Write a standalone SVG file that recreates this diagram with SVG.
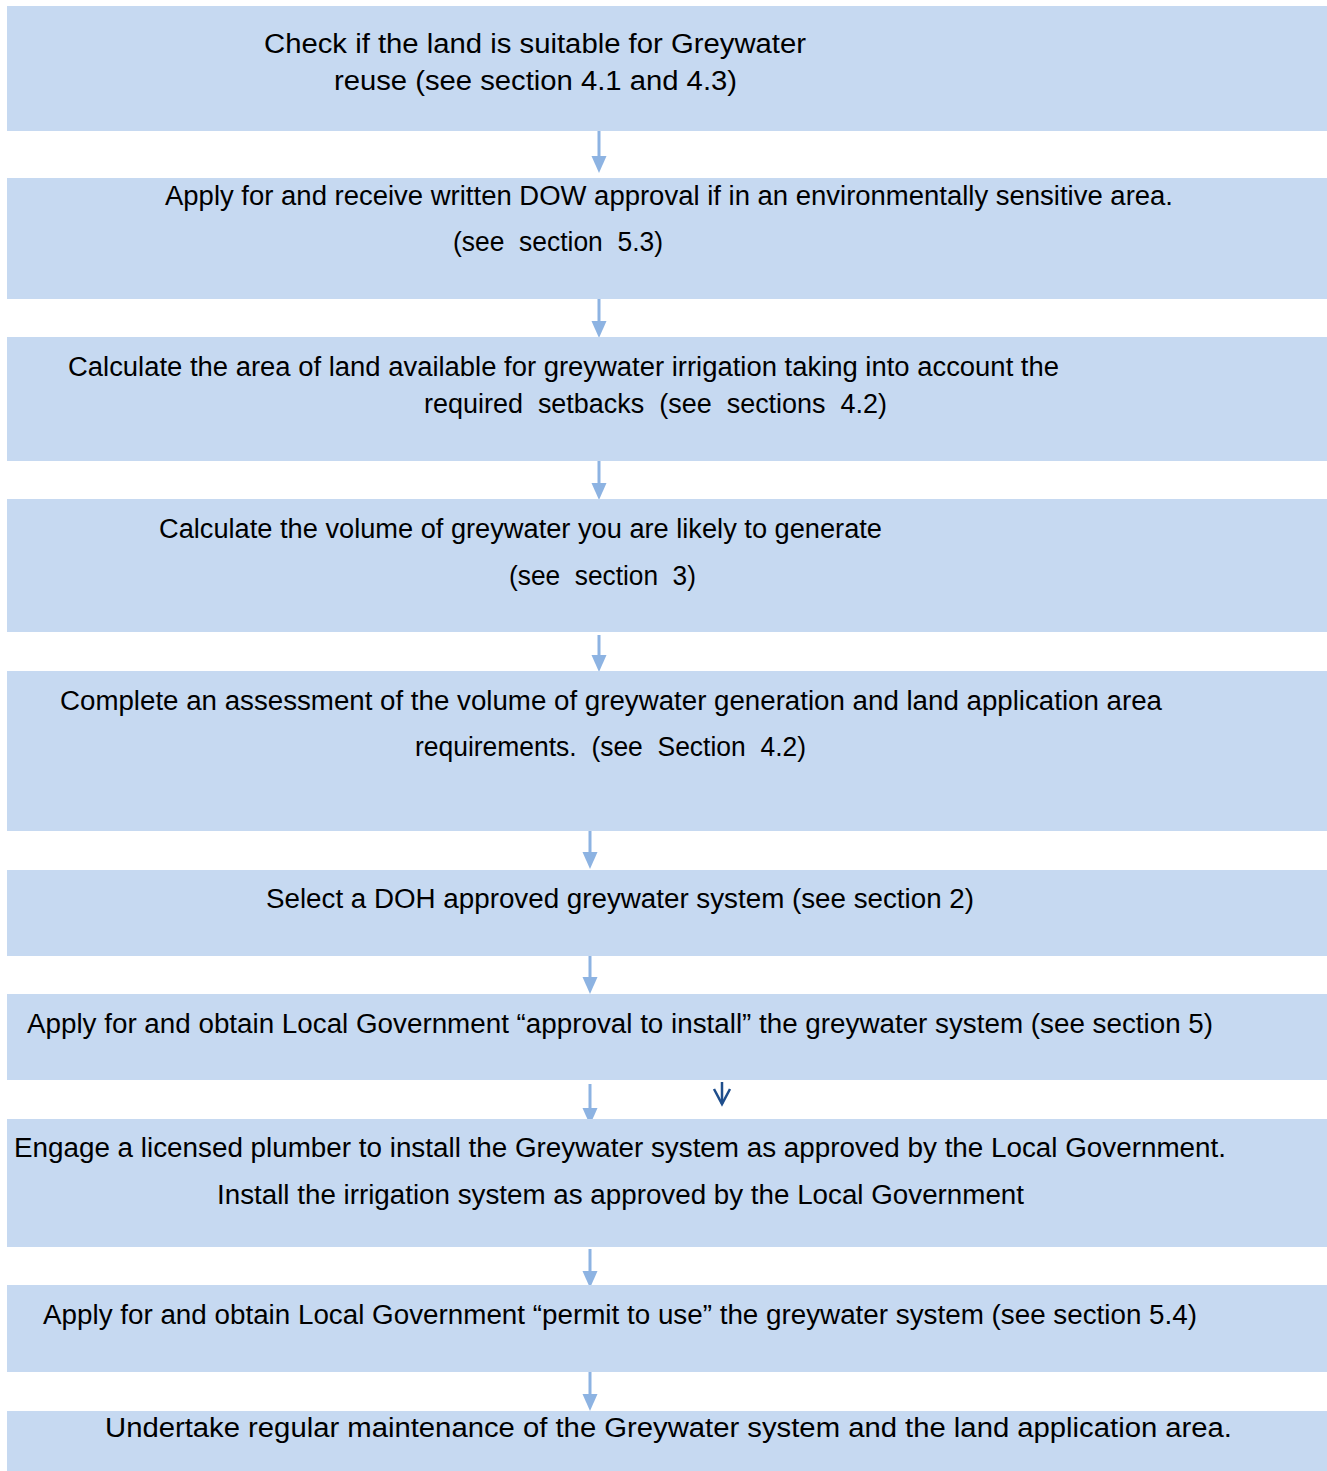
<svg xmlns="http://www.w3.org/2000/svg" width="1327" height="1471" viewBox="0 0 1327 1471">
<defs>
<style>
.box{fill:#c6d9f1}
.t{font-family:"Liberation Sans",Arial,sans-serif;font-size:27px;fill:#000;white-space:pre}
.ln{stroke:#8db3e2;stroke-width:3;fill:none}
.hd{fill:#8db3e2}
.dk{stroke:#1f4e8c;stroke-width:2.5;fill:none}
</style>
</defs>
<rect width="1327" height="1471" fill="#fff"/>
<g id="connectors">
<line class="ln" x1="599" y1="131" x2="599" y2="157"/><polygon class="hd" points="591.5,156 606.5,156 599,173"/>
<line class="ln" x1="599" y1="299" x2="599" y2="322"/><polygon class="hd" points="591.5,321 606.5,321 599,338"/>
<line class="ln" x1="599" y1="461" x2="599" y2="484"/><polygon class="hd" points="591.5,483 606.5,483 599,500"/>
<line class="ln" x1="599" y1="635" x2="599" y2="656"/><polygon class="hd" points="591.5,655 606.5,655 599,672"/>
<line class="ln" x1="590" y1="829" x2="590" y2="853"/><polygon class="hd" points="582.5,852 597.5,852 590,869"/>
<line class="ln" x1="590" y1="954" x2="590" y2="978"/><polygon class="hd" points="582.5,977 597.5,977 590,994"/>
<line class="ln" x1="590" y1="1084" x2="590" y2="1109"/><polygon class="hd" points="582.5,1108 597.5,1108 590,1125"/>
<line class="ln" x1="590" y1="1249" x2="590" y2="1272"/><polygon class="hd" points="582.5,1271 597.5,1271 590,1288"/>
<line class="ln" x1="590" y1="1371" x2="590" y2="1395"/><polygon class="hd" points="582.5,1394 597.5,1394 590,1411"/>
<line class="dk" x1="722" y1="1082" x2="722" y2="1104"/><polyline class="dk" points="714,1089 722,1104 730,1089"/>
</g>
<g id="n1"><rect class="box" x="7" y="6" width="1320" height="125"/>
<text class="t" x="264" y="53" textLength="542" lengthAdjust="spacingAndGlyphs">Check if the land is suitable for Greywater</text>
<text class="t" x="334" y="90" textLength="403" lengthAdjust="spacingAndGlyphs">reuse (see section 4.1 and 4.3)</text></g>
<g id="n2"><rect class="box" x="7" y="178" width="1320" height="121"/>
<text class="t" x="165" y="205" textLength="1008" lengthAdjust="spacingAndGlyphs">Apply for and receive written DOW approval if in an environmentally sensitive area.</text>
<text class="t" x="453" y="251" textLength="210" lengthAdjust="spacingAndGlyphs">(see  section  5.3)</text></g>
<g id="n3"><rect class="box" x="7" y="337" width="1320" height="124"/>
<text class="t" x="68" y="376" textLength="991" lengthAdjust="spacingAndGlyphs">Calculate the area of land available for greywater irrigation taking into account the</text>
<text class="t" x="424" y="413" textLength="463" lengthAdjust="spacingAndGlyphs">required  setbacks  (see  sections  4.2)</text></g>
<g id="n4"><rect class="box" x="7" y="499" width="1320" height="133"/>
<text class="t" x="159" y="538" textLength="723" lengthAdjust="spacingAndGlyphs">Calculate the volume of greywater you are likely to generate</text>
<text class="t" x="509" y="585" textLength="187" lengthAdjust="spacingAndGlyphs">(see  section  3)</text></g>
<g id="n5"><rect class="box" x="7" y="671" width="1320" height="160"/>
<text class="t" x="60" y="710" textLength="1102" lengthAdjust="spacingAndGlyphs">Complete an assessment of the volume of greywater generation and land application area</text>
<text class="t" x="415" y="756" textLength="391" lengthAdjust="spacingAndGlyphs">requirements.  (see  Section  4.2)</text></g>
<g id="n6"><rect class="box" x="7" y="870" width="1320" height="86"/>
<text class="t" x="266" y="908" textLength="708" lengthAdjust="spacingAndGlyphs">Select a DOH approved greywater system (see section 2)</text></g>
<g id="n7"><rect class="box" x="7" y="994" width="1320" height="86"/>
<text class="t" x="27" y="1033" textLength="1186" lengthAdjust="spacingAndGlyphs">Apply for and obtain Local Government “approval to install” the greywater system (see section 5)</text></g>
<g id="n8"><rect class="box" x="7" y="1119" width="1320" height="128"/>
<text class="t" x="14" y="1157" textLength="1212" lengthAdjust="spacingAndGlyphs">Engage a licensed plumber to install the Greywater system as approved by the Local Government.</text>
<text class="t" x="217" y="1204" textLength="807" lengthAdjust="spacingAndGlyphs">Install the irrigation system as approved by the Local Government</text></g>
<g id="n9"><rect class="box" x="7" y="1285" width="1320" height="87"/>
<text class="t" x="43" y="1324" textLength="1154" lengthAdjust="spacingAndGlyphs">Apply for and obtain Local Government “permit to use” the greywater system (see section 5.4)</text></g>
<g id="n10"><rect class="box" x="7" y="1411" width="1320" height="60"/>
<text class="t" x="105" y="1437" textLength="1127" lengthAdjust="spacingAndGlyphs">Undertake regular maintenance of the Greywater system and the land application area.</text></g>
</svg>
